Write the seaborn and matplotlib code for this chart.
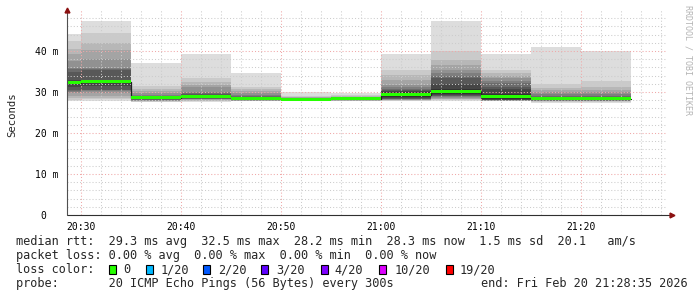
import numpy as np
import pandas as pd
import matplotlib
matplotlib.use("Agg")
import matplotlib.pyplot as plt
import seaborn as sns
from matplotlib.patches import Rectangle

# ---------------- data ----------------
# start of each 5-minute step, in minutes after 20:00
seg_start = [25, 30, 35, 40, 45, 50, 55, 60, 65, 70, 75, 80]
seg_len = 5
median_ms = [32.3, 32.5, 28.6, 28.9, 28.3, 28.2, 28.3, 29.3, 30.1, 28.9, 28.3, 28.3]
# 20 sorted ping round-trip times (ms) for each step
pings_ms = [
    [27.8, 28.1, 28.5, 29.0, 29.7, 30.1, 30.3, 30.5, 31.3, 32.0, 32.6, 33.0, 35.0, 35.5, 35.8, 37.5, 39.2, 40.5, 42.4, 44.1],
    [27.8, 28.2, 28.6, 29.0, 29.8, 30.2, 30.4, 30.5, 31.5, 32.3, 32.7, 33.0, 35.3, 35.6, 35.8, 38.0, 40.2, 42.0, 44.3, 47.3],
    [27.5, 27.6, 27.7, 27.8, 27.9, 28.0, 28.1, 28.2, 28.3, 28.5, 28.7, 28.8, 28.9, 29.1, 29.3, 29.8, 30.2, 30.8, 31.5, 37.1],
    [27.6, 27.7, 27.9, 28.0, 28.2, 28.3, 28.4, 28.5, 28.6, 28.8, 29.0, 29.2, 29.4, 29.8, 30.0, 31.3, 31.8, 32.5, 33.3, 39.3],
    [27.7, 27.8, 27.85, 27.9, 27.95, 28.0, 28.05, 28.1, 28.15, 28.2, 28.4, 28.6, 28.8, 29.0, 29.3, 29.8, 30.2, 30.8, 31.3, 34.6],
    [27.8, 27.85, 27.9, 27.9, 27.95, 27.98, 28.0, 28.05, 28.1, 28.15, 28.25, 28.3, 28.35, 28.4, 28.5, 28.6, 28.7, 28.8, 29.0, 29.9],
    [27.8, 27.85, 27.9, 27.95, 28.0, 28.05, 28.1, 28.15, 28.2, 28.25, 28.35, 28.4, 28.45, 28.5, 28.6, 28.7, 28.8, 29.0, 29.3, 29.7],
    [27.8, 27.9, 28.0, 28.1, 28.15, 28.2, 28.3, 28.4, 28.6, 28.8, 29.9, 30.2, 30.5, 30.7, 31.3, 31.8, 32.9, 34.1, 35.4, 39.3],
    [27.8, 28.1, 28.3, 28.4, 28.6, 28.9, 28.95, 29.0, 29.2, 29.4, 30.8, 32.0, 33.3, 33.8, 34.6, 35.4, 36.6, 37.8, 40.0, 47.2],
    [27.7, 27.8, 27.85, 27.9, 27.9, 27.95, 28.0, 28.05, 28.1, 28.2, 29.6, 30.7, 31.2, 32.1, 32.7, 33.3, 34.0, 34.6, 35.4, 39.3],
    [27.2, 27.5, 27.7, 27.8, 27.85, 27.9, 27.95, 28.0, 28.1, 28.2, 28.4, 28.6, 28.8, 29.0, 29.4, 29.9, 30.4, 30.9, 32.0, 41.0],
    [27.2, 27.5, 27.7, 27.8, 27.85, 27.9, 27.95, 28.0, 28.1, 28.2, 28.4, 28.6, 28.8, 29.0, 29.4, 29.9, 30.6, 31.3, 32.8, 40.0],
]
x_ticks = [30, 40, 50, 60, 70, 80]
x_labels = ["20:30", "20:40", "20:50", "21:00", "21:10", "21:20"]
y_ticks = [0, 10, 20, 30, 40]
y_labels = ["0  ", "10 m", "20 m", "30 m", "40 m"]
x_range = [28 + 35 / 60, 88 + 35 / 60]   # 20:28:35 .. 21:28:35
y_range = [0, 50]

loss_labels = ["0", "1/20", "2/20", "3/20", "4/20", "10/20", "19/20"]
loss_colors = ["#26ff00", "#00b8ff", "#0059ff", "#5e00ff", "#7e00ff", "#dd00ff", "#ff0000"]

legend_rtt = "median rtt:  29.3 ms avg  32.5 ms max  28.2 ms min  28.3 ms now  1.5 ms sd  20.1   am/s"
legend_loss = "packet loss: 0.00 % avg  0.00 % max  0.00 % min  0.00 % now"
legend_probe = "probe:       20 ICMP Echo Pings (56 Bytes) every 300s"
legend_end = "end: Fri Feb 20 21:28:35 2026"
watermark = "RRDTOOL / TOBI OETIKER"

# ---------------- figure ----------------
sns.set_style("white")
plt.rcParams["font.family"] = ["DejaVu Sans Mono", "DejaVu Sans"]

W, H = 697, 297
fig = plt.figure(figsize=(W / 100, H / 100), dpi=100)
fig.patch.set_facecolor("white")
ax = fig.add_axes([67 / W, 82 / H, 600 / W, 205 / H])
ax.set_facecolor("white")

# smoke bands (SmokePing style)
n = 20
half = n // 2
for i in range(1, half + 1):
    g = int(190 / half * (half - i)) + 50
    col = "#%02x%02x%02x" % (g, g, g)
    lo = [p[i - 1] for p in pings_ms]
    hi = [p[n - i] for p in pings_ms]
    ax.bar(seg_start, np.array(hi) - np.array(lo), bottom=lo, width=seg_len,
           align="edge", color=col, linewidth=0, zorder=1)

# median black step line
step_x = list(seg_start) + [seg_start[-1] + seg_len]
step_y = list(median_ms) + [median_ms[-1]]
sns.lineplot(x=step_x, y=step_y, drawstyle="steps-post", color="#202020",
             linewidth=0.9, ax=ax, zorder=3, estimator=None, sort=False)

# loss-coloured median band (all 0 loss -> green)
ax.bar(seg_start, [0.75] * len(seg_start), bottom=np.array(median_ms) - 0.35,
       width=seg_len, align="edge", color=loss_colors[0], linewidth=0, zorder=4)

ax.set_xlim(*x_range)
ax.set_ylim(*y_range)

ax.set_xticks(x_ticks, labels=x_labels)
ax.set_xticks([m for m in range(30, 89, 2) if m % 10 != 0], minor=True)
ax.set_yticks(y_ticks, labels=y_labels)
ax.set_yticks([v for v in range(2, 50, 2) if v % 10 != 0], minor=True)
ax.tick_params(which="both", length=0)
ax.tick_params(axis="x", pad=5, labelsize=7, colors="#000000")
ax.tick_params(axis="y", pad=6.3, labelsize=7, colors="#000000")

ax.set_axisbelow(False)
ax.grid(which="minor", color="#cccccc", linestyle=(0, (1, 2)), linewidth=0.75)
ax.grid(which="major", color="#f0a8a8", linestyle=(0, (1, 2)), linewidth=0.75)
for gl in ax.get_xgridlines() + ax.get_ygridlines():
    gl.set_zorder(2)

for s in ax.spines.values():
    s.set_visible(False)

# axes with arrows
ax.plot([0, 1.004], [0, 0], color="#303030", lw=0.8, transform=ax.transAxes,
        clip_on=False, zorder=5)
ax.plot([0, 0], [0, 0.99], color="#505050", lw=0.8, transform=ax.transAxes,
        clip_on=False, zorder=5)
ax.plot([1.0075], [0], marker=">", color="#8b1010", markersize=3.5,
        transform=ax.transAxes, clip_on=False, zorder=6)
ax.plot([0], [1.0], marker="^", color="#8b1010", markersize=3.5,
        transform=ax.transAxes, clip_on=False, zorder=6)

ax.set_xlabel("")
ax.set_ylabel("")

# unit label and watermark
fig.text(12 / W, 1 - 115 / H, "Seconds", rotation=90, ha="center", va="center",
         fontsize=7.7)
fig.text(688 / W, 1 - 5 / H, watermark, rotation=270, ha="center", va="top",
         fontsize=6, color="#b4b4b4")

# legend text
fs = 8.55
fig.text(16 / W, 1 - 245.3 / H, legend_rtt, ha="left", va="baseline", fontsize=fs)
fig.text(16 / W, 1 - 259.3 / H, legend_loss, ha="left", va="baseline", fontsize=fs)
fig.text(16 / W, 1 - 273.3 / H, "loss color:", ha="left", va="baseline", fontsize=fs)
fig.text(16 / W, 1 - 287.3 / H, legend_probe, ha="left", va="baseline", fontsize=fs)
fig.text(481 / W, 1 - 287.3 / H, legend_end, ha="left", va="baseline", fontsize=fs)

box_x = [108.7, 146, 203, 261, 321.3, 379.4, 445.5]
lab_x = [123, 160.3, 218, 276, 334.7, 395, 459.3]
for bx, lx, lab, col in zip(box_x, lab_x, loss_labels, loss_colors):
    fig.patches.append(Rectangle((bx / W, 1 - 274 / H), 7 / W, 9 / H,
                                 transform=fig.transFigure, facecolor=col,
                                 edgecolor="black", linewidth=0.8))
    fig.text(lx / W, 1 - 273.3 / H, lab, ha="left", va="baseline", fontsize=fs)

fig.savefig("out.png", dpi=100, facecolor="white")
